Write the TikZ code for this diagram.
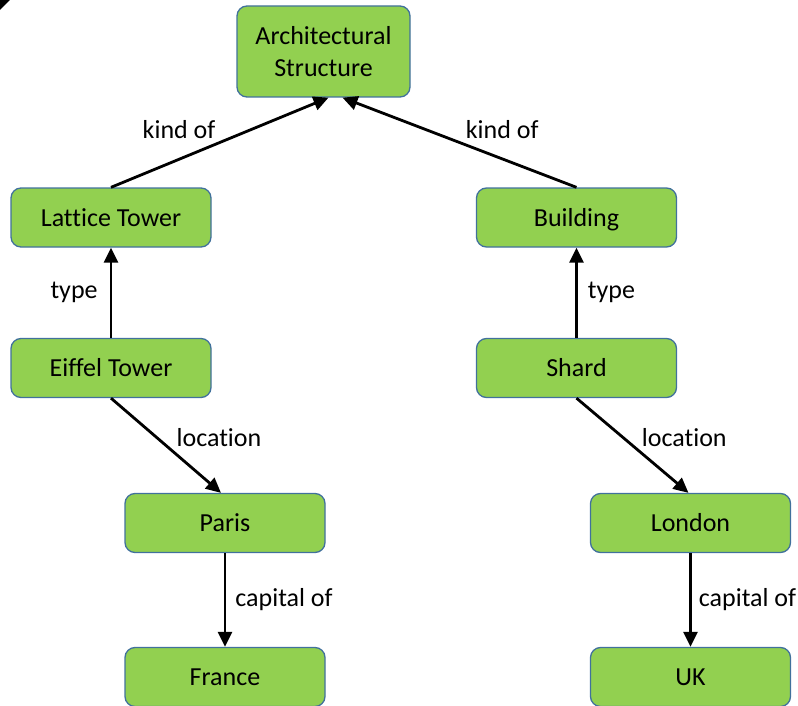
\documentclass[tikz,border=0pt]{standalone}
\usepackage{fontspec}
\setmainfont{Carlito}[Ligatures=CommonOff]
\usetikzlibrary{arrows.meta,positioning}
\definecolor{boxgreen}{HTML}{92D050}
\definecolor{boxline}{HTML}{41719C}
\tikzset{
  concept/.style={draw=boxline,line width=1.3pt,fill=boxgreen,rounded corners=10pt,
    minimum width=200pt,minimum height=59pt,align=center,
    font=\fontsize{26}{32}\selectfont},
  leaf/.style={concept,text height=20pt,text depth=3pt},
  rel/.style={->,line width=2.8pt},
  lab/.style={font=\fontsize{26}{30}\selectfont,inner sep=0pt}
}
\begin{document}
\begin{tikzpicture}[x=1pt,y=-1pt,>={Triangle[length=15pt,width=14pt]},line join=round]
\clip (0,0) rectangle (798,706);
\fill (0,0)--(10,0)--(0,10)--cycle;
% concepts
\node[concept,minimum width=173pt,minimum height=91pt] (arch) at (323.5,51.5) {Architectural\\Structure};
\node[leaf] (lattice) at (111,217.5) {Lattice Tower};
\node[leaf] (building) at (576.5,217.5) {Building};
\node[leaf] (eiffel) at (111,368) {Eiffel Tower};
\node[leaf] (shard) at (576.5,368) {Shard};
\node[leaf] (paris) at (225,523) {Paris};
\node[leaf] (london) at (690.5,523) {London};
\node[leaf] (france) at (225,677) {France};
\node[leaf] (uk) at (690.5,677) {UK};
% relations
\draw[rel] (lattice.north) -- node[lab,midway,above left=2pt and 3pt] {kind of} ([xshift=5pt]arch.south);
\draw[rel] (building.north) -- node[lab,midway,above right=2pt and 5pt] {kind of} ([xshift=19pt]arch.south);
\draw[rel] (eiffel.north) -- node[lab,midway,left=12pt] {type} (lattice.south);
\draw[rel] (shard.north) -- node[lab,midway,right=10pt] {type} (building.south);
\draw[rel] (eiffel.south) -- node[lab,pos=0.42,right=18pt] {location} ([xshift=-4pt]paris.north);
\draw[rel] (shard.south) -- node[lab,pos=0.42,right=17pt] {location} ([xshift=-2pt]london.north);
\draw[rel] (paris.south) -- node[lab,midway,right=9pt] {capital of} (france.north);
\draw[rel] (london.south) -- node[lab,midway,right=7pt] {capital of} (uk.north);
\end{tikzpicture}
\end{document}
